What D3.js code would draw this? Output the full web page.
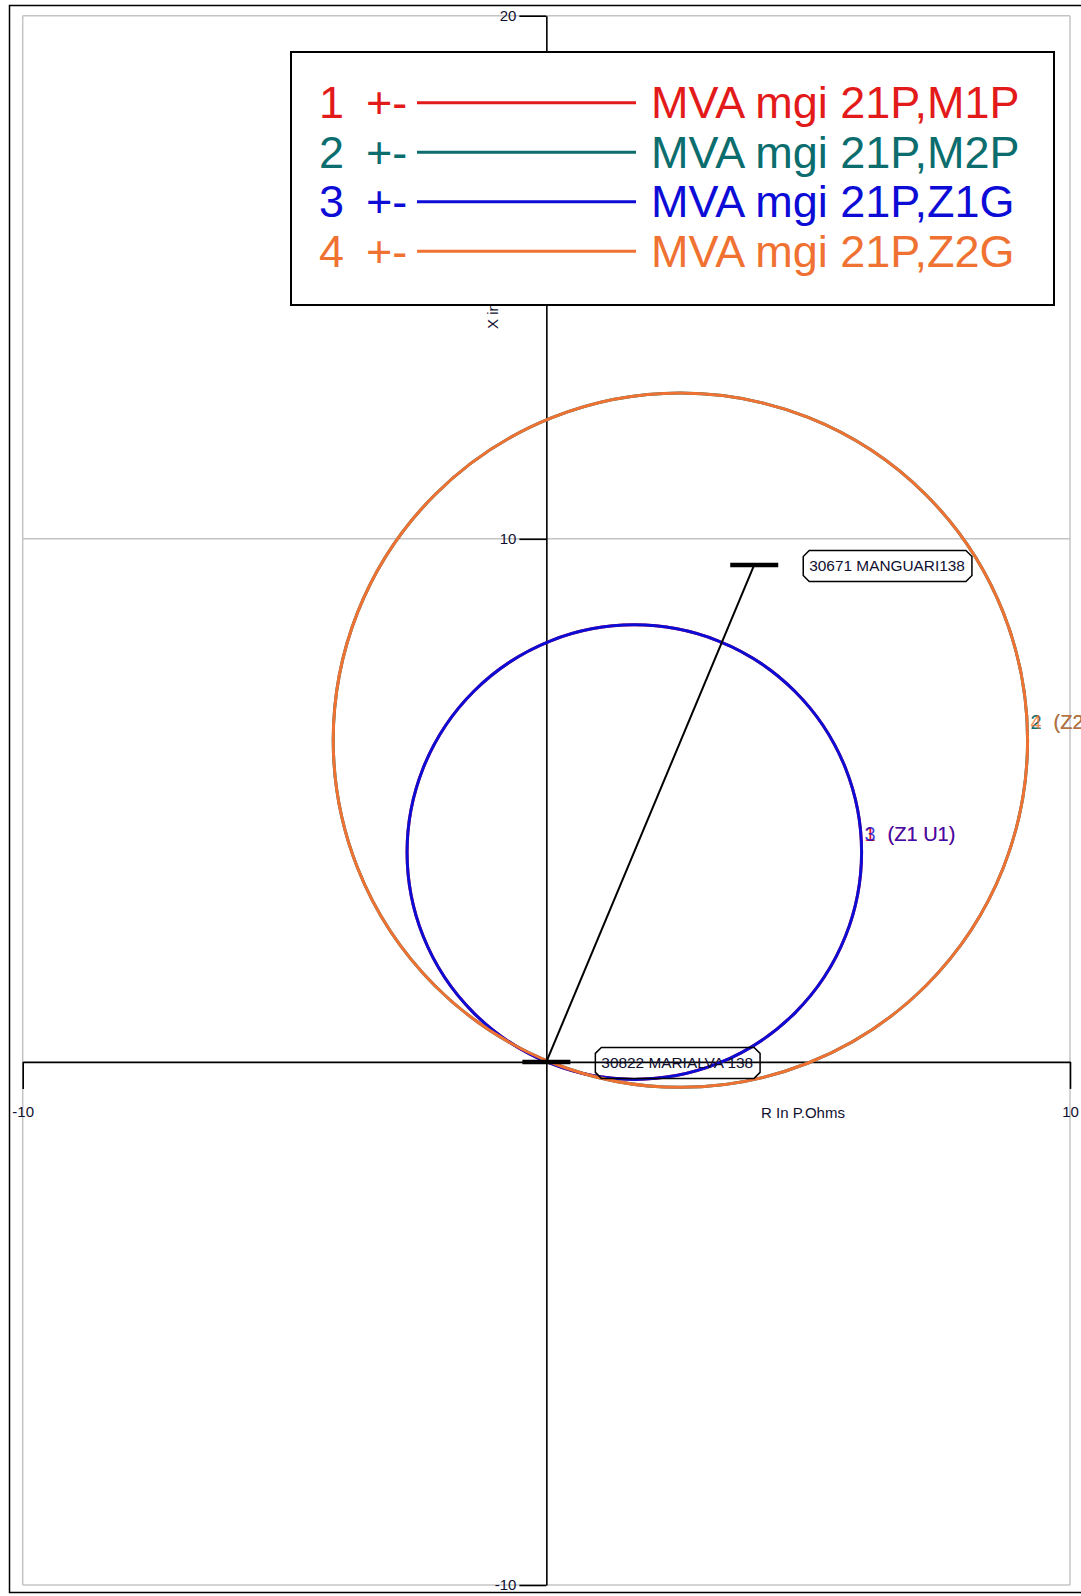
<!DOCTYPE html>
<html><head><meta charset="utf-8">
<script src="https://cdn.jsdelivr.net/npm/d3@7"></script>
<style>
body{margin:0;background:#fff}
svg{display:block}
text{font-family:"Liberation Sans",Arial,sans-serif}
</style>
</head><body>
<svg id="c" width="1081" height="1596"></svg>
<script>
// ---------- data ----------
const xTicks = [-10, 10];
const yTicks = [-10, 10, 20];
const seriesIds = ["1", "2", "3", "4"];
const seriesNames = ["MVA mgi 21P,M1P", "MVA mgi 21P,M2P", "MVA mgi 21P,Z1G", "MVA mgi 21P,Z2G"];
const zoneLabels = ["(Z1 U1)", "(Z2 U1)", "(Z1 U1)", "(Z2 U1)"];
// mho characteristic circles (R, X in primary ohms)
const centerR = [1.68, 2.56, 1.68, 2.56];
const centerX = [4.01, 6.15, 4.01, 6.15];
const radius  = [4.34, 6.63, 4.34, 6.63];
// buses
const busNames = ["30822 MARIALVA 138", "30671 MANGUARI138"];
const busR = [0, 3.97];
const busX = [0, 9.50];
const xTitle = "R In P.Ohms";
const yTitle = "X in P.Ohms";

// ---------- styles ----------
const colors = ["#e31a1a", "#0b6d6d", "#0c0cd6", "#f07232"];

const svg = d3.select("#c");
const x = d3.scaleLinear().domain([-10, 10]).range([22.7, 1070]);
const y = d3.scaleLinear().domain([-10, 20]).range([1585, 15.7]);

// outer frame
svg.append("rect").attr("x", 9.5).attr("y", 5.5).attr("width", 1100).attr("height", 1587)
  .attr("fill", "none").attr("stroke", "#000").attr("stroke-width", 1.5);

// grid
const grid = svg.append("g").attr("stroke", "#c4c4c4").attr("stroke-width", 1.5);
grid.selectAll("line.v").data(xTicks).join("line")
  .attr("x1", d => x(d)).attr("x2", d => x(d)).attr("y1", y(20)).attr("y2", y(-10));
grid.selectAll("line.h").data(yTicks).join("line")
  .attr("x1", x(-10)).attr("x2", x(10)).attr("y1", d => y(d)).attr("y2", d => y(d));

// axes
const yAxis = svg.append("g").attr("transform", `translate(${x(0)},0)`)
  .call(d3.axisLeft(y).tickValues(yTicks).tickSize(27).tickSizeOuter(0).tickPadding(3).tickFormat(d => String(d)));
const xAxis = svg.append("g").attr("transform", `translate(0,${y(0)})`)
  .call(d3.axisBottom(x).tickValues(xTicks).tickSize(27).tickSizeOuter(0).tickPadding(17).tickFormat(d => String(d)));
[xAxis, yAxis].forEach(g => {
  g.selectAll("path,line").attr("stroke", "#000").attr("stroke-width", 1.6);
  g.selectAll("text").attr("font-size", 15).attr("fill", "#101030")
    .attr("font-family", '"Liberation Sans",Arial,sans-serif');
});

// axis titles
svg.append("text").attr("x", x(4.1)).attr("y", y(0) + 56).attr("font-size", 15).attr("fill", "#101030")
  .text(xTitle);
svg.append("text").attr("transform", `translate(498,329) rotate(-90)`).attr("font-size", 15)
  .attr("fill", "#101030").text(yTitle);

// circles
const idx = d3.range(seriesIds.length);
svg.append("g").selectAll("circle").data(idx).join("circle")
  .attr("cx", i => x(centerR[i])).attr("cy", i => y(centerX[i]))
  .attr("r", i => x(radius[i]) - x(0))
  .attr("fill", "none").attr("stroke", i => colors[i]).attr("stroke-width", 3);

// circle labels
const lab = svg.append("g").attr("font-size", 20);
idx.forEach(i => {
  const lx = x(centerR[i] + radius[i]) + 3;
  const ly = y(centerX[i]) - 11;
  const op = i >= 2 ? 0.8 : 1;
  lab.append("text").attr("x", lx).attr("y", ly).attr("fill", colors[i]).attr("fill-opacity", op).text(seriesIds[i]);
  lab.append("text").attr("x", lx + 23).attr("y", ly).attr("fill", colors[i]).attr("fill-opacity", op).text(zoneLabels[i]);
});

// line between buses
svg.append("line")
  .attr("x1", x(busR[0])).attr("y1", y(busX[0])).attr("x2", x(busR[1])).attr("y2", y(busX[1]))
  .attr("stroke", "#000").attr("stroke-width", 2);

// bus bars
svg.append("g").selectAll("line").data(d3.range(busNames.length)).join("line")
  .attr("x1", i => x(busR[i]) - 24).attr("x2", i => x(busR[i]) + 24)
  .attr("y1", i => y(busX[i])).attr("y2", i => y(busX[i]))
  .attr("stroke", "#000").attr("stroke-width", 4.5);

// bus labels
d3.range(busNames.length).forEach(i => {
  const bx = x(busR[i]) + 49, by = y(busX[i]) + 1;
  const g = svg.append("g");
  const t = g.append("text").attr("x", bx + 6).attr("y", by + 5).attr("font-size", 15.4)
    .attr("fill", "#101030").text(busNames[i]);
  const w = t.node().getComputedTextLength() + 13, h = 31, c = 6;
  const x0 = bx, y0 = by - h / 2;
  g.insert("path", "text")
    .attr("d", `M${x0 + c},${y0}L${x0 + w - c},${y0}L${x0 + w},${y0 + c}L${x0 + w},${y0 + h - c}L${x0 + w - c},${y0 + h}L${x0 + c},${y0 + h}L${x0},${y0 + h - c}L${x0},${y0 + c}Z`)
    .attr("fill", "none").attr("stroke", "#000").attr("stroke-width", 1.5);
});

// legend
const leg = svg.append("g");
leg.append("rect").attr("x", 291).attr("y", 52).attr("width", 763).attr("height", 253)
  .attr("fill", "#fff").attr("stroke", "#000").attr("stroke-width", 2);
idx.forEach(i => {
  const cy = 102.8 + i * 49.5;
  const g = leg.append("g").attr("fill", colors[i]).attr("font-size", 45);
  g.append("text").attr("x", 319).attr("y", cy + 15.5).text(seriesIds[i]);
  g.append("text").attr("x", 366).attr("y", cy + 15.5).text("+-");
  g.append("line").attr("x1", 417).attr("x2", 636).attr("y1", cy).attr("y2", cy)
    .attr("stroke", colors[i]).attr("stroke-width", 3);
  g.append("text").attr("x", 651).attr("y", cy + 15.5).text(seriesNames[i]);
});
</script>
</body></html>
